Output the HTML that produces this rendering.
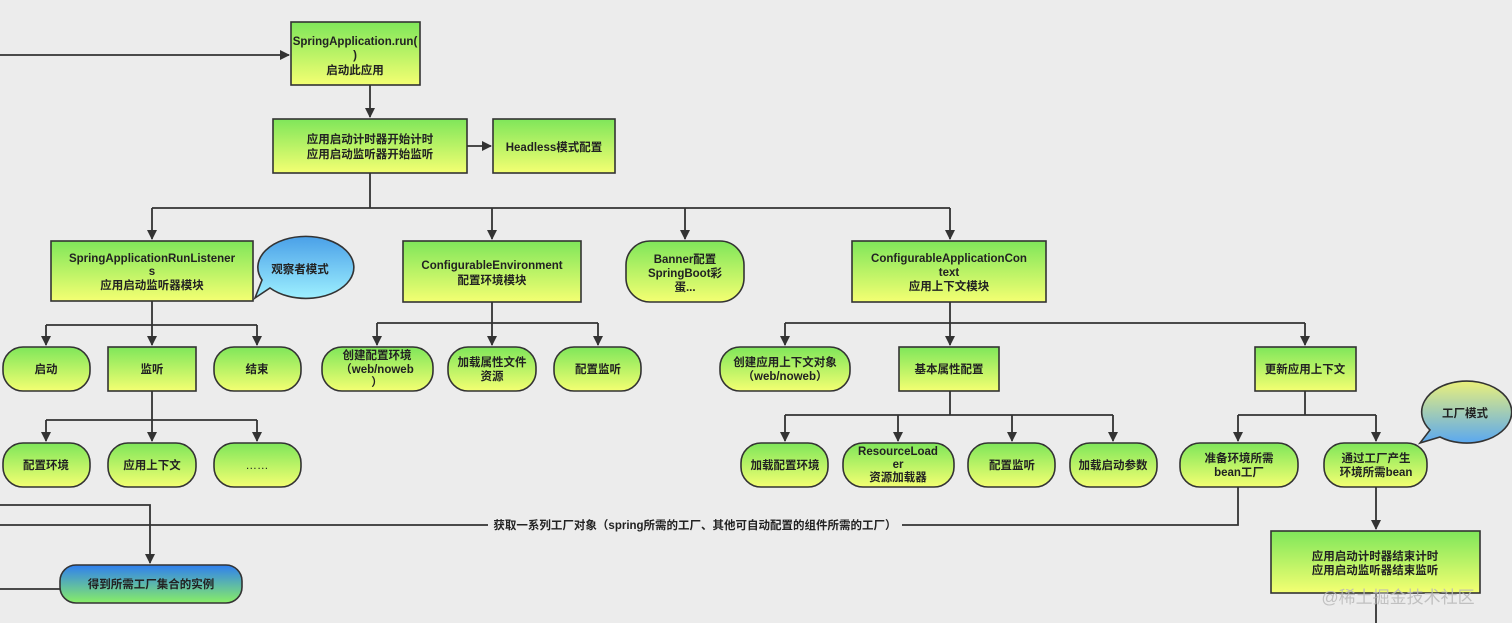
<!DOCTYPE html>
<html><head><meta charset="utf-8"><style>
html,body{margin:0;padding:0;background:#ececec;}
svg{display:block;}
text{font-family:"Liberation Sans","Noto Sans CJK SC",sans-serif;font-size:11.5px;font-weight:bold;fill:#222;text-anchor:middle;}
.n{stroke:#333;stroke-width:1.6;fill:url(#g);}
.l{stroke:#333;stroke-width:1.8;fill:none;}
</style></head><body>
<svg width="1512" height="623" viewBox="0 0 1512 623" xmlns="http://www.w3.org/2000/svg">
<defs>
<linearGradient id="g" x1="0" y1="0" x2="0" y2="1"><stop offset="0" stop-color="#7fe65a"/><stop offset="1" stop-color="#f4ff72"/></linearGradient>
<linearGradient id="b" x1="0" y1="0" x2="0" y2="1"><stop offset="0" stop-color="#4aa0e8"/><stop offset="1" stop-color="#9ef0ff"/></linearGradient>
<linearGradient id="b2" x1="0" y1="0" x2="0" y2="1"><stop offset="0" stop-color="#eaf07a"/><stop offset="1" stop-color="#5aa8f0"/></linearGradient>
<linearGradient id="bg" x1="0" y1="0" x2="0" y2="1"><stop offset="0" stop-color="#2f7ff0"/><stop offset="1" stop-color="#88ee66"/></linearGradient>
<marker id="a" markerWidth="10" markerHeight="10" refX="9" refY="5" orient="auto" markerUnits="userSpaceOnUse"><path d="M0,0 L10,5 L0,10 z" fill="#333"/></marker>
</defs>
<!-- connectors -->
<path class="l" d="M0,55 H289" marker-end="url(#a)"/>
<path class="l" d="M370,85 V117" marker-end="url(#a)"/>
<path class="l" d="M467,146 H491" marker-end="url(#a)"/>
<path class="l" d="M370,173 V208 M152,208 H950"/>
<path class="l" d="M152,208 V239" marker-end="url(#a)"/>
<path class="l" d="M492,208 V239" marker-end="url(#a)"/>
<path class="l" d="M685,208 V239" marker-end="url(#a)"/>
<path class="l" d="M950,208 V239" marker-end="url(#a)"/>
<path class="l" d="M152,301 V325 M46,325 H257"/>
<path class="l" d="M46,325 V345" marker-end="url(#a)"/>
<path class="l" d="M152,325 V345" marker-end="url(#a)"/>
<path class="l" d="M257,325 V345" marker-end="url(#a)"/>
<path class="l" d="M152,391 V420 M46,420 H257"/>
<path class="l" d="M46,420 V441" marker-end="url(#a)"/>
<path class="l" d="M152,420 V441" marker-end="url(#a)"/>
<path class="l" d="M257,420 V441" marker-end="url(#a)"/>
<path class="l" d="M492,302 V323 M377,323 H598"/>
<path class="l" d="M377,323 V345" marker-end="url(#a)"/>
<path class="l" d="M492,323 V345" marker-end="url(#a)"/>
<path class="l" d="M598,323 V345" marker-end="url(#a)"/>
<path class="l" d="M950,302 V323 M785,323 H1305"/>
<path class="l" d="M785,323 V345" marker-end="url(#a)"/>
<path class="l" d="M950,323 V345" marker-end="url(#a)"/>
<path class="l" d="M1305,323 V345" marker-end="url(#a)"/>
<path class="l" d="M950,391 V415 M785,415 H1113"/>
<path class="l" d="M785,415 V441" marker-end="url(#a)"/>
<path class="l" d="M898,415 V441" marker-end="url(#a)"/>
<path class="l" d="M1012,415 V441" marker-end="url(#a)"/>
<path class="l" d="M1113,415 V441" marker-end="url(#a)"/>
<path class="l" d="M1305,391 V415 M1238,415 H1376"/>
<path class="l" d="M1238,415 V441" marker-end="url(#a)"/>
<path class="l" d="M1376,415 V441" marker-end="url(#a)"/>
<path class="l" d="M1238,487 V525 H0"/>
<path class="l" d="M0,505 H150 V563" marker-end="url(#a)"/>
<path class="l" d="M0,589 H60"/>
<path class="l" d="M1376,487 V529" marker-end="url(#a)"/>
<path class="l" d="M1376,593 V623"/>
<rect x="488" y="517" width="414" height="16" fill="#ececec"/>
<text x="695" y="529">获取一系列工厂对象（spring所需的工厂、其他可自动配置的组件所需的工厂）</text>
<!-- top nodes -->
<rect class="n" x="291" y="22" width="129" height="63"/>
<text x="355" y="45">SpringApplication.run(</text><text x="355" y="59">)</text><text x="355" y="74">启动此应用</text>
<rect class="n" x="273" y="119" width="194" height="54"/>
<text x="370" y="143">应用启动计时器开始计时</text><text x="370" y="158">应用启动监听器开始监听</text>
<rect class="n" x="493" y="119" width="122" height="54"/>
<text x="554" y="151">Headless模式配置</text>
<!-- level 2 -->
<rect class="n" x="51" y="241" width="202" height="60"/>
<text x="152" y="262">SpringApplicationRunListener</text><text x="152" y="275">s</text><text x="152" y="289">应用启动监听器模块</text>
<path d="M255,298 L270,288 A48,31 0 1 0 262,280 Z" fill="url(#b)" stroke="#333" stroke-width="1.6"/>
<text x="300" y="273">观察者模式</text>
<rect class="n" x="403" y="241" width="178" height="61"/>
<text x="492" y="269">ConfigurableEnvironment</text><text x="492" y="284">配置环境模块</text>
<rect class="n" x="626" y="241" width="118" height="61" rx="24"/>
<text x="685" y="263">Banner配置</text><text x="685" y="277">SpringBoot彩</text><text x="685" y="291">蛋...</text>
<rect class="n" x="852" y="241" width="194" height="61"/>
<text x="949" y="262">ConfigurableApplicationCon</text><text x="949" y="276">text</text><text x="949" y="290">应用上下文模块</text>
<!-- level 3 -->
<rect class="n" x="3" y="347" width="87" height="44" rx="20"/><text x="46" y="373">启动</text>
<rect class="n" x="108" y="347" width="88" height="44"/><text x="152" y="373">监听</text>
<rect class="n" x="214" y="347" width="87" height="44" rx="20"/><text x="257" y="373">结束</text>
<rect class="n" x="322" y="347" width="111" height="44" rx="20"/><text x="377" y="359">创建配置环境</text><text x="377" y="373">（web/noweb</text><text x="377" y="386">）</text>
<rect class="n" x="448" y="347" width="88" height="44" rx="20"/><text x="492" y="366">加载属性文件</text><text x="492" y="380">资源</text>
<rect class="n" x="554" y="347" width="87" height="44" rx="20"/><text x="598" y="373">配置监听</text>
<rect class="n" x="720" y="347" width="130" height="44" rx="20"/><text x="785" y="366">创建应用上下文对象</text><text x="785" y="380">（web/noweb）</text>
<rect class="n" x="899" y="347" width="100" height="44"/><text x="949" y="373">基本属性配置</text>
<rect class="n" x="1255" y="347" width="101" height="44"/><text x="1305" y="373">更新应用上下文</text>
<!-- level 4 -->
<rect class="n" x="3" y="443" width="87" height="44" rx="20"/><text x="46" y="469">配置环境</text>
<rect class="n" x="108" y="443" width="88" height="44" rx="20"/><text x="152" y="469">应用上下文</text>
<rect class="n" x="214" y="443" width="87" height="44" rx="20"/><text x="257" y="469" style="font-weight:normal">……</text>
<rect class="n" x="741" y="443" width="87" height="44" rx="20"/><text x="785" y="469">加载配置环境</text>
<rect class="n" x="843" y="443" width="111" height="44" rx="20"/><text x="898" y="455">ResourceLoad</text><text x="898" y="468">er</text><text x="898" y="481">资源加载器</text>
<rect class="n" x="968" y="443" width="87" height="44" rx="20"/><text x="1012" y="469">配置监听</text>
<rect class="n" x="1070" y="443" width="87" height="44" rx="20"/><text x="1113" y="469">加载启动参数</text>
<rect class="n" x="1180" y="443" width="118" height="44" rx="20"/><text x="1239" y="462">准备环境所需</text><text x="1239" y="476">bean工厂</text>
<rect class="n" x="1324" y="443" width="103" height="44" rx="20"/><text x="1376" y="462">通过工厂产生</text><text x="1376" y="476">环境所需bean</text>
<path d="M1420,443 L1440,437 A45,31 0 1 0 1430,430 Z" fill="url(#b2)" stroke="#333" stroke-width="1.6"/>
<text x="1465" y="417">工厂模式</text>
<rect x="60" y="565" width="182" height="38" rx="16" fill="url(#bg)" stroke="#333" stroke-width="1.6"/>
<text x="151" y="588">得到所需工厂集合的实例</text>
<rect class="n" x="1271" y="531" width="209" height="62"/>
<text x="1375" y="560">应用启动计时器结束计时</text><text x="1375" y="574">应用启动监听器结束监听</text>
<text x="1398" y="603" style="font-size:17px;font-weight:normal;fill:#b8b8b8;fill-opacity:0.85">@稀土掘金技术社区</text>
</svg>
</body></html>
